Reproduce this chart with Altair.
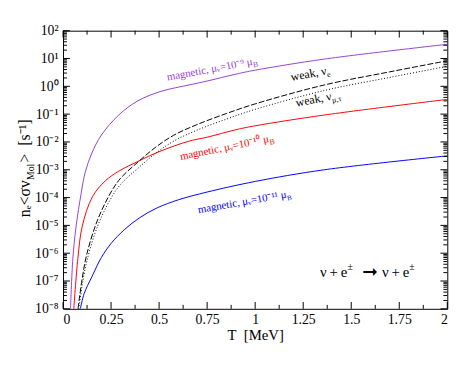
import altair as alt
import pandas as pd

# ---- data (T in MeV, rate in s^-1) ----
T_mag9 = [0.039, 0.051, 0.068, 0.094, 0.115, 0.15, 0.2, 0.29, 0.39, 0.51, 0.656, 0.75, 0.9, 1.0, 1.36, 2.0]
R_mag9 = [1e-8, 6.3e-7, 9.3e-6, 1.38e-4, 7.9e-4, 3.98e-3, 1.78e-2, 9.3e-2, 0.302, 0.66, 1.12, 1.55, 2.75, 3.8, 9.55, 32.4]

T_mag10 = [0.056, 0.077, 0.10, 0.153, 0.22, 0.29, 0.39, 0.5, 0.656, 0.75, 0.9, 1.0, 1.36, 2.0]
R_mag10 = [1e-8, 6.3e-7, 9.3e-6, 1.07e-4, 4.0e-4, 8.9e-4, 2.0e-3, 4.47e-3, 1.07e-2, 1.48e-2, 2.75e-2, 3.8e-2, 9.3e-2, 0.339]

T_mag11 = [0.09, 0.11, 0.15, 0.2, 0.25, 0.32, 0.4, 0.49, 0.6, 0.75, 1.0, 1.36, 2.0]
R_mag11 = [1e-8, 3.55e-8, 1.41e-7, 7.1e-7, 2.24e-6, 7.1e-6, 1.91e-5, 4.27e-5, 8.3e-5, 1.58e-4, 3.8e-4, 1.0e-3, 3.16e-3]

T_weak_e = [0.078, 0.1, 0.125, 0.18, 0.25, 0.3, 0.389, 0.48, 0.576, 0.696, 0.85, 1.0, 1.36, 1.7, 2.0]
R_weak_e = [1e-8, 1.26e-7, 1e-6, 1.58e-5, 1.58e-4, 5.0e-4, 1.86e-3, 6.3e-3, 1.74e-2, 4.17e-2, 0.105, 0.234, 1.12, 3.31, 8.3]

T_weak_mt = [0.082, 0.1, 0.125, 0.18, 0.25, 0.3, 0.389, 0.48, 0.576, 0.696, 0.85, 1.0, 1.36, 1.7, 2.0]
R_weak_mt = [1e-8, 7.1e-8, 5.6e-7, 9.5e-6, 9.5e-5, 3.0e-4, 1.12e-3, 3.8e-3, 1.07e-2, 2.63e-2, 6.6e-2, 0.148, 0.708, 2.09, 5.25]

x_ticks = [0, 0.25, 0.5, 0.75, 1, 1.25, 1.5, 1.75, 2]
x_minor = [0.125, 0.375, 0.625, 0.875, 1.125, 1.375, 1.625, 1.875]
y_exps = list(range(-8, 3))
y_ticks = [10.0 ** e for e in y_exps]
y_minor = [k * 10.0 ** e for e in range(-8, 2) for k in range(2, 10)]

SUP = {"-": "⁻", "0": "⁰", "1": "¹", "2": "²", "3": "³", "4": "⁴",
       "5": "⁵", "6": "⁶", "7": "⁷", "8": "⁸", "9": "⁹"}
y_labels = ["10" + "".join(SUP[c] for c in str(e)) for e in y_exps]

W, H = 391, 283
FONT = "Liberation Serif"
PURPLE = "#9440d8"
NB = "\u00a0"

xs = alt.Scale(domain=[0, 2], nice=False, zero=False)
ys = alt.Scale(type="log", domain=[1e-8, 1e2], nice=False)

label_expr = "[" + ",".join("'%s'" % s for s in y_labels) + "][round(log(datum.value)/LN10)+8]"

XA = alt.Axis(values=x_ticks, labelExpr="format(datum.value, '.3~g')", title="T" + NB + NB + "[MeV]",
              grid=False, ticks=False, tickSize=0, domain=False, labelFont=FONT,
              labelFontSize=14, labelColor="black", labelPadding=4,
              titleFont=FONT, titleFontSize=15, titleFontWeight="normal",
              titleColor="black", titlePadding=1)
YA = alt.Axis(values=y_ticks, labelExpr=label_expr, title="", grid=False,
              ticks=False, tickSize=0, domain=False, labelFont=FONT,
              labelFontSize=14, labelColor="black", labelPadding=5)


def curve(T, R, color, dash=None):
    df = pd.DataFrame({"T": T, "R": R})
    kw = dict(color=color, strokeWidth=1, clip=True, interpolate="catmull-rom")
    if dash:
        kw["strokeDash"] = dash
    return alt.Chart(df).mark_line(**kw).encode(
        x=alt.X("T:Q", scale=xs, axis=XA),
        y=alt.Y("R:Q", scale=ys, axis=YA))


def txt(x, y, s, color="black", size=12, angle=0, align="left", dx=0, dy=0, weight="normal", font=FONT):
    df = pd.DataFrame({"T": [x], "R": [y], "s": [s]})
    return alt.Chart(df).mark_text(font=font, fontSize=size, color=color, angle=angle,
                                   align=align, dx=dx, dy=dy, baseline="alphabetic",
                                   fontWeight=weight).encode(
        x=alt.X("T:Q", scale=xs, axis=XA),
        y=alt.Y("R:Q", scale=ys, axis=YA),
        text="s:N")


def ptxt(px, py, s, size=15, angle=0, align="left", dx=0, dy=0):
    df = pd.DataFrame({"s": [s]})
    return alt.Chart(df).mark_text(font=FONT, fontSize=size, color="black", angle=angle,
                                   align=align, dx=dx, dy=dy, baseline="alphabetic").encode(
        x=alt.value(px), y=alt.value(py), text="s:N")


def xt(vals, y1, y2):
    return alt.Chart(pd.DataFrame({"T": vals})).mark_rule(color="black", strokeWidth=1).encode(
        x=alt.X("T:Q", scale=xs, axis=XA), y=alt.value(y1), y2=alt.value(y2))


def yt(vals, x1, x2):
    return alt.Chart(pd.DataFrame({"R": vals})).mark_rule(color="black", strokeWidth=1).encode(
        y=alt.Y("R:Q", scale=ys, axis=YA), x=alt.value(x1), x2=alt.value(x2))


TS = "\u2009"  # thin space
layers = [
    curve(T_mag9, R_mag9, PURPLE),
    curve(T_mag10, R_mag10, "#ff0000"),
    curve(T_mag11, R_mag11, "#0000ff"),
    curve(T_weak_e, R_weak_e, "#000000", dash=[6, 2]),
    curve(T_weak_mt, R_weak_mt, "#000000", dash=[1, 2]),
    # ticks
    xt(x_ticks, H, H - 7), xt(x_ticks, 0, 7),
    xt(x_minor, H, H - 4), xt(x_minor, 0, 4),
    yt(y_ticks, 0, 7), yt(y_ticks, W, W - 7),
    yt(y_minor, 0, 4), yt(y_minor, W, W - 4),
    # curve labels
    txt(0.989, 6.0, "magnetic, μᵥ=10⁻⁹ μ", PURPLE, 11, 349.5, "right"),
    txt(0.989, 6.0, "B", PURPLE, 8, 349.5, "left", dy=3),
    txt(1.074, 0.01, "magnetic, μᵥ=10⁻¹⁰ μ", "#ff0000", 11, 348.5, "right"),
    txt(1.074, 0.01, "B", "#ff0000", 8, 348.5, "left", dy=3),
    txt(1.165, 1e-4, "magnetic, μᵥ=10⁻¹¹ μ", "#0000ff", 11, 350, "right"),
    txt(1.165, 1e-4, "B", "#0000ff", 7, 350, "left", dy=3),
    txt(1.374, 2.72, "weak, ν", "black", 12, 349, "right"),
    txt(1.374, 2.72, "e", "black", 8, 349, "left", dy=3),
    txt(1.40, 0.328, "weak, ν", "black", 12, 349, "right"),
    txt(1.40, 0.328, "μ,τ", "black", 8, 349, "left", dy=3),
    # reaction
    txt(1.48, 1.4e-7, "ν" + TS + "+" + TS + "e", "black", 15, 0, "right"),
    txt(1.48, 1.4e-7, "±", "black", 10, 0, "left", dy=-7),
    txt(1.48, 1.4e-7, "➞", "black", 19, 0, "center", dx=23, dy=1, font="DejaVu Sans"),
    txt(1.48, 1.4e-7, "ν" + TS + "+" + TS + "e", "black", 15, 0, "right", dx=63),
    txt(1.48, 1.4e-7, "±", "black", 10, 0, "left", dx=63, dy=-7),
    # y title (rotated)
    ptxt(-34, 152, "nₑ<σv", 16, 270, "right"),
    ptxt(-34, 152, "Mol", 10, 270, "left", dy=4),
    ptxt(-34, 152, ">" + NB + NB + "[s⁻¹]", 16, 270, "left", dx=18),
]

chart = alt.layer(*layers).properties(
    width=W, height=H,
    autosize=alt.AutoSizeParams(type="none"),
    padding={"left": 56, "top": 20, "right": 17, "bottom": 50},
).configure_view(stroke="black", strokeWidth=1)

chart.save("out.html", embed_options={"renderer": "svg", "actions": False})
